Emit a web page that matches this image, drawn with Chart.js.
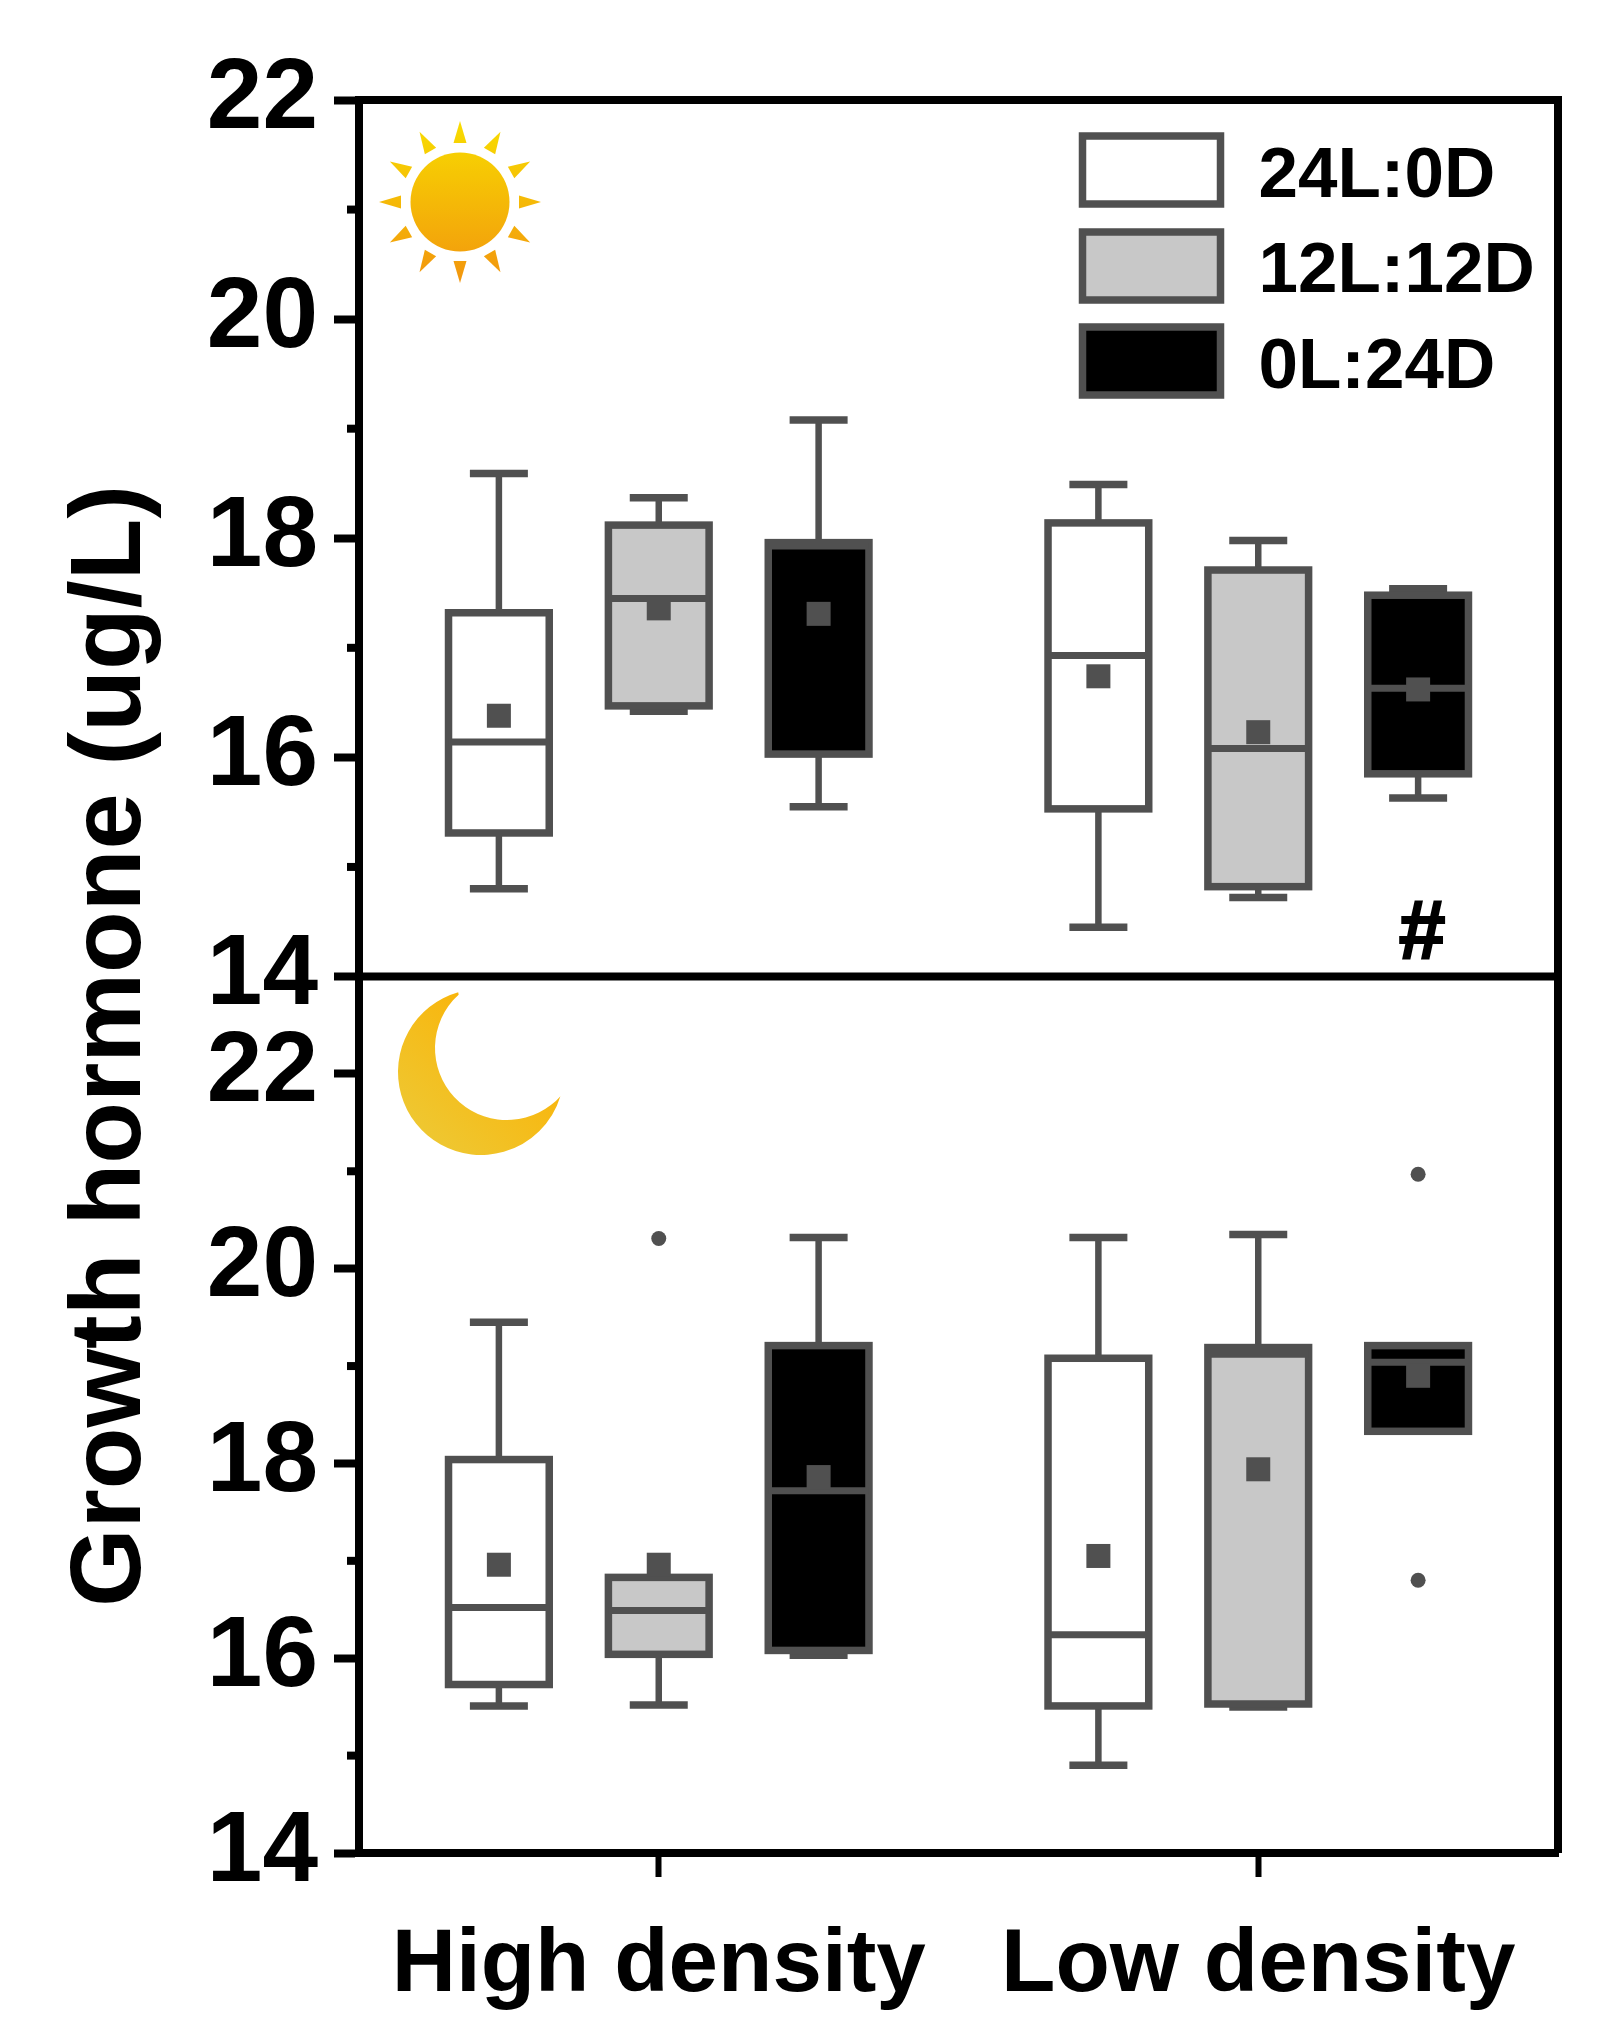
<!DOCTYPE html>
<html>
<head>
<meta charset="utf-8">
<title>Growth hormone</title>
<script src="https://cdn.jsdelivr.net/npm/chart.js@4/dist/chart.umd.min.js"></script>
<style>
  html, body { margin: 0; padding: 0; background: #fff; }
  canvas { display: block; }
</style>
</head>
<body>
<canvas id="chart" width="1615" height="2040"></canvas>
<script>
// ========================
// DATA
// every table is [series][category]
// ========================
const categories = ["High density", "Low density"];
const seriesLabels = ["24L:0D", "12L:12D", "0L:24D"];
const yTicks = [14, 16, 18, 20, 22];
const yMinorTicks = [15, 17, 19, 21];
const yTitle = "Growth hormone (ug/L)";

// upper panel (sun)
const dayWhiskerLow = [[14.80, 14.45], [16.42, 14.72], [15.55, 15.63]];
const dayQ1 = [[15.31, 15.53], [16.47, 14.82], [16.03, 15.85]];
const dayMedian = [[16.14, 16.93], [17.45, 16.08], [17.93, 16.63]];
const dayQ3 = [[17.32, 18.14], [18.12, 17.71], [17.96, 17.48]];
const dayWhiskerHigh = [[18.59, 18.49], [18.37, 17.98], [19.08, 17.54]];
const dayMean = [[16.38, 16.74], [17.36, 16.23], [17.31, 16.62]];
const dayOutliers = [[[], []], [[], []], [[], []]];

// lower panel (moon)
const nightWhiskerLow = [[15.51, 14.90], [15.52, 15.50], [16.03, 18.33]];
const nightQ1 = [[15.73, 15.51], [16.04, 15.53], [16.08, 18.33]];
const nightMedian = [[16.52, 16.24], [16.49, 19.12], [17.72, 19.04]];
const nightQ3 = [[18.04, 19.08], [16.83, 19.19], [19.21, 19.21]];
const nightWhiskerHigh = [[19.45, 20.32], [16.83, 20.35], [20.32, 19.21]];
const nightMean = [[16.96, 17.05], [16.96, 17.94], [17.86, 18.90]];
const nightOutliers = [[[], []], [[20.31], []], [[], [20.97, 16.80]]];

// "#" mark: series 0L:24D, Low density, upper panel
const hashSeries = 2;
const hashCategory = 1;
const hashValue = 14.37;

// ========================
// STYLE
// ========================
const FONT = "'Liberation Sans', Arial, sans-serif";
const LINE = "#505050";
const FILLS = ["#ffffff", "#c8c8c8", "#000000"];
const STACKS = ["a", "b", "c"];

const panels = [
  { axis: "yNight", low: nightWhiskerLow, q1: nightQ1, med: nightMedian, q3: nightQ3, high: nightWhiskerHigh, mean: nightMean, out: nightOutliers },
  { axis: "yDay", low: dayWhiskerLow, q1: dayQ1, med: dayMedian, q3: dayQ3, high: dayWhiskerHigh, mean: dayMean, out: dayOutliers }
];

// one floating bar dataset per panel + series
const datasets = [];
panels.forEach((p) => {
  seriesLabels.forEach((label, s) => {
    datasets.push({
      label,
      yAxisID: p.axis,
      stack: STACKS[s],
      data: categories.map((_, c) => [p.q1[s][c], p.q3[s][c]]),
      backgroundColor: FILLS[s],
      borderWidth: 0,
      barPercentage: 0.63,
      categoryPercentage: 0.8,
      panel: p,
      series: s
    });
  });
});

function yAxis(max) {
  return {
    type: "linear",
    position: "left",
    stack: "panels",
    stackWeight: 1,
    stacked: false,
    min: 14,
    max,
    afterBuildTicks: (scale) => { scale.ticks = yTicks.map((v) => ({ value: v })); },
    afterFit: (scale) => { scale.width = 359; },
    border: { display: true, color: "#000", width: 8 },
    grid: { drawOnChartArea: false, tickLength: 25, tickWidth: 8, tickColor: "#000" },
    ticks: {
      autoSkip: false,
      padding: 16,
      labelOffset: 0,
      color: "#000",
      font: { family: FONT, weight: "bold", size: 100 }
    }
  };
}

// ========================
// Decorations
// ========================
function drawSun(ctx) {
  const cx = 460, cy = 202;
  const g = ctx.createLinearGradient(0, 122, 0, 282);
  g.addColorStop(0, "#f8dc00");
  g.addColorStop(1, "#f2960e");
  ctx.fillStyle = g;
  ctx.beginPath();
  ctx.arc(cx, cy, 49.5, 0, Math.PI * 2);
  ctx.fill();
  for (let i = 0; i < 12; i++) {
    const a = (i * Math.PI) / 6;
    const ux = Math.sin(a), uy = -Math.cos(a);
    ctx.beginPath();
    ctx.moveTo(cx + ux * 59 - uy * 6.5, cy + uy * 59 + ux * 6.5);
    ctx.lineTo(cx + ux * 81, cy + uy * 81);
    ctx.lineTo(cx + ux * 59 + uy * 6.5, cy + uy * 59 - ux * 6.5);
    ctx.closePath();
    ctx.fill();
  }
}

function drawMoon(ctx) {
  const tip1 = [459, 995], tip2 = [563, 1097];
  const outer = { x: 481, y: 1072, r: 83 };
  const inner = { x: 507, y: 1048, r: 72 };
  const g = ctx.createLinearGradient(540, 1010, 420, 1140);
  g.addColorStop(0, "#fcb000");
  g.addColorStop(1, "#eec833");
  ctx.fillStyle = g;
  ctx.beginPath();
  ctx.arc(outer.x, outer.y, outer.r, Math.atan2(tip1[1] - outer.y, tip1[0] - outer.x), Math.atan2(tip2[1] - outer.y, tip2[0] - outer.x), true);
  ctx.arc(inner.x, inner.y, inner.r, Math.atan2(tip2[1] - inner.y, tip2[0] - inner.x), Math.atan2(tip1[1] - inner.y, tip1[0] - inner.x), false);
  ctx.closePath();
  ctx.fill();
}

// legend sits inside the top panel, text baseline is lower than the built-in one allows
function drawLegend(ctx) {
  const boxTops = [136, 232, 327];
  const baselines = [197, 292, 388];
  ctx.font = "bold 71px " + FONT;
  ctx.textAlign = "left";
  ctx.textBaseline = "alphabetic";
  seriesLabels.forEach((text, s) => {
    ctx.fillStyle = FILLS[s];
    ctx.strokeStyle = LINE;
    ctx.lineWidth = 7.5;
    ctx.fillRect(1082.5, boxTops[s], 138, 68);
    ctx.strokeRect(1082.5, boxTops[s], 138, 68);
    ctx.fillStyle = "#000";
    ctx.fillText(text, 1258.5, baselines[s]);
  });
}

// whiskers, box outlines, medians, means, outliers, through the chart's scales
const boxPlugin = {
  id: "boxParts",
  beforeDatasetsDraw(chart) {
    drawSun(chart.ctx);
    drawMoon(chart.ctx);
  },
  afterDatasetsDraw(chart) {
    const ctx = chart.ctx;
    ctx.save();
    chart.data.datasets.forEach((ds, i) => {
      const meta = chart.getDatasetMeta(i);
      const y = chart.scales[ds.yAxisID];
      const p = ds.panel, s = ds.series;
      meta.data.forEach((bar, c) => {
        const x = bar.x, half = bar.width / 2;
        const yOf = (v) => y.getPixelForValue(v);
        ctx.strokeStyle = LINE;
        ctx.fillStyle = LINE;
        ctx.lineCap = "butt";

        // whiskers + caps
        [[p.high[s][c], p.q3[s][c]], [p.low[s][c], p.q1[s][c]]].forEach(([end, edge]) => {
          if (end === edge) return;
          ctx.lineWidth = 6.5;
          ctx.beginPath();
          ctx.moveTo(x, yOf(end));
          ctx.lineTo(x, yOf(edge));
          ctx.stroke();
          ctx.lineWidth = 7.5;
          ctx.beginPath();
          ctx.moveTo(x - 29, yOf(end));
          ctx.lineTo(x + 29, yOf(end));
          ctx.stroke();
        });

        // box outline
        ctx.lineWidth = 7.5;
        ctx.strokeRect(x - half, yOf(p.q3[s][c]), half * 2, yOf(p.q1[s][c]) - yOf(p.q3[s][c]));

        // median
        ctx.lineWidth = 7;
        ctx.beginPath();
        ctx.moveTo(x - half, yOf(p.med[s][c]));
        ctx.lineTo(x + half, yOf(p.med[s][c]));
        ctx.stroke();

        // mean square
        ctx.fillRect(x - 12, yOf(p.mean[s][c]) - 12, 24, 24);

        // outliers
        p.out[s][c].forEach((v) => {
          ctx.beginPath();
          ctx.arc(x, yOf(v), 7.5, 0, Math.PI * 2);
          ctx.fill();
        });

        if (p.axis === "yDay" && s === hashSeries && c === hashCategory) {
          ctx.fillStyle = "#000";
          ctx.strokeStyle = "#000";
          ctx.lineWidth = 2;
          ctx.font = "bold 84px " + FONT;
          ctx.textAlign = "center";
          ctx.textBaseline = "middle";
          ctx.fillText("#", x + 4, yOf(hashValue));
          ctx.strokeText("#", x + 4, yOf(hashValue));
        }
      });
    });
    ctx.restore();
  },
  afterDraw(chart) {
    const ctx = chart.ctx;
    const a = chart.chartArea;
    const mid = chart.scales.yDay.bottom;
    ctx.save();

    // frame and panel divider
    ctx.strokeStyle = "#000";
    ctx.lineWidth = 8;
    ctx.beginPath();
    ctx.moveTo(a.left, a.top);
    ctx.lineTo(a.right, a.top);
    ctx.lineTo(a.right, a.bottom);
    ctx.moveTo(a.left, mid);
    ctx.lineTo(a.right, mid);
    ctx.stroke();

    // minor ticks
    ["yDay", "yNight"].forEach((id) => {
      yMinorTicks.forEach((v) => {
        const py = chart.scales[id].getPixelForValue(v);
        ctx.beginPath();
        ctx.moveTo(a.left - 12, py);
        ctx.lineTo(a.left, py);
        ctx.stroke();
      });
    });

    drawLegend(ctx);

    // y title, it spans both panels
    ctx.fillStyle = "#000";
    ctx.font = "bold 101px " + FONT;
    ctx.textAlign = "center";
    ctx.textBaseline = "alphabetic";
    ctx.translate(140, 1046);
    ctx.rotate(-Math.PI / 2);
    ctx.fillText(yTitle, 0, 0);
    ctx.restore();
  }
};

// ========================
// Chart.js
// ========================
new Chart(document.getElementById("chart").getContext("2d"), {
  type: "bar",
  data: { labels: categories, datasets },
  plugins: [boxPlugin],
  options: {
    responsive: false,
    animation: false,
    layout: { autoPadding: false, padding: { top: 100, right: 57, bottom: 0, left: 0 } },
    plugins: {
      title: { display: false },
      tooltip: { enabled: false },
      legend: { display: false }
    },
    scales: {
      x: {
        afterFit: (scale) => { scale.height = 187; },
        border: { display: true, color: "#000", width: 8 },
        grid: { offset: false, drawOnChartArea: false, tickLength: 24, tickWidth: 6, tickColor: "#000" },
        ticks: {
          autoSkip: false,
          maxRotation: 0,
          padding: 36,
          color: "#000",
          font: { family: FONT, weight: "bold", size: 89 }
        }
      },
      yNight: yAxis(23),
      yDay: yAxis(22)
    }
  }
});
</script>
</body>
</html>
